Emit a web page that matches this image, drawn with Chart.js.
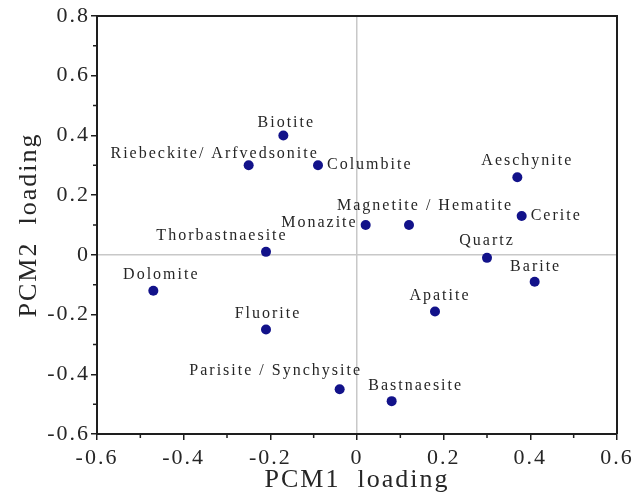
<!DOCTYPE html>
<html>
<head>
<meta charset="utf-8">
<title>PCM loadings</title>
<script src="https://cdn.jsdelivr.net/npm/chart.js@4.4.1/dist/chart.umd.min.js"></script>
<style>
    html, body { margin: 0; padding: 0; background: #fff; }
    #wrap { width: 643px; height: 500px; }
</style>
</head>
<body>
<div id="wrap"><canvas id="pcmChart"></canvas></div>
<script>
// Mineral loadings on the first two components
const minerals = [
    'Biotite', 'Riebeckite/ Arfvedsonite', 'Columbite', 'Aeschynite', 'Cerite',
    'Monazite', 'Magnetite / Hematite', 'Thorbastnaesite', 'Quartz', 'Barite',
    'Dolomite', 'Apatite', 'Fluorite', 'Parisite / Synchysite', 'Bastnaesite'
];
const pcm1 = [-0.17, -0.25, -0.09, 0.37, 0.38, 0.02, 0.12, -0.21, 0.30, 0.41, -0.47, 0.18, -0.21, -0.04, 0.08];
const pcm2 = [0.40, 0.30, 0.30, 0.26, 0.13, 0.10, 0.10, 0.01, -0.01, -0.09, -0.12, -0.19, -0.25, -0.45, -0.49];

const xRange = [-0.6, 0.6];
const yRange = [-0.6, 0.8];
const majorStep = 0.2;
const minorStep = 0.1;

// where each name sits relative to its dot (pixels)
const labelDx = [3, -34, 9, 10, 9, -8, 16, -44, 0, 1, 8, 5, 2, -64, 24];
const labelDy = [-13, -11, 0, -16, 0, -2, -19, -16, -17, -15, -16, -16, -16, -18, -15];
const labelAlign = ['center', 'center', 'left', 'center', 'left', 'right', 'center', 'center',
    'center', 'center', 'center', 'center', 'center', 'center', 'center'];

const SERIF = '"Liberation Serif", "Times New Roman", serif';
const INK = '#262626';
const AXIS = '#1e1e1e';

const points = minerals.map((m, i) => ({ x: pcm1[i], y: pcm2[i] }));

function fmtTick(v) {
    if (Math.abs(v) < 1e-9) return '0';
    return v.toFixed(1);
}

function zeroLine(c) {
    return Math.abs(c.tick.value) < 1e-9 ? '#c8c8c8' : 'rgba(0,0,0,0)';
}

const pointLabels = {
    id: 'pointLabels',
    afterDatasetsDraw(chart) {
        const ctx = chart.ctx;
        const meta = chart.getDatasetMeta(0);
        ctx.save();
        ctx.font = '16px ' + SERIF;
        ctx.letterSpacing = '2px';
        ctx.fillStyle = INK;
        ctx.textBaseline = 'middle';
        meta.data.forEach((pt, i) => {
            ctx.textAlign = labelAlign[i];
            ctx.fillText(minerals[i], pt.x + labelDx[i], pt.y + labelDy[i]);
        });
        ctx.restore();
    }
};

// closed box plus the small in-between ticks
const frame = {
    id: 'frame',
    beforeUpdate(chart) { chart.ctx.letterSpacing = '2px'; },
    beforeDraw(chart) { chart.ctx.letterSpacing = '2px'; },
    afterDraw(chart) {
        const { ctx, chartArea: a, scales: { x, y } } = chart;
        ctx.save();
        ctx.strokeStyle = AXIS;
        ctx.lineWidth = 2;
        ctx.beginPath();
        ctx.moveTo(a.left, a.top);
        ctx.lineTo(a.right, a.top);
        ctx.lineTo(a.right, a.bottom);
        ctx.stroke();

        ctx.lineWidth = 1.5;
        ctx.beginPath();
        for (let v = xRange[0] + minorStep; v < xRange[1]; v += majorStep) {
            const px = x.getPixelForValue(v);
            ctx.moveTo(px, a.bottom);
            ctx.lineTo(px, a.bottom + 4);
        }
        for (let v = yRange[0] + minorStep; v < yRange[1]; v += majorStep) {
            const py = y.getPixelForValue(v);
            ctx.moveTo(a.left, py);
            ctx.lineTo(a.left - 4, py);
        }
        ctx.stroke();
        ctx.restore();
    }
};

new Chart(document.getElementById('pcmChart'), {
    type: 'scatter',
    data: {
        datasets: [{
            data: points,
            backgroundColor: '#12128a',
            borderWidth: 0,
            pointRadius: 5,
            pointHoverRadius: 5
        }]
    },
    options: {
        responsive: true,
        maintainAspectRatio: false,
        animation: false,
        layout: { padding: { top: 16, right: 26, left: 0, bottom: 0 } },
        plugins: {
            legend: { display: false },
            tooltip: { enabled: false }
        },
        scales: {
            x: {
                type: 'linear',
                min: xRange[0],
                max: xRange[1],
                afterFit(s) { s.height = 66; },
                ticks: {
                    stepSize: majorStep,
                    padding: 5,
                    color: INK,
                    font: { family: SERIF, size: 22 },
                    callback: fmtTick
                },
                grid: {
                    color: zeroLine,
                    lineWidth: 1.5,
                    tickColor: AXIS,
                    tickLength: 6,
                    tickWidth: 1.5
                },
                border: { display: true, color: AXIS, width: 2 },
                title: {
                    display: true,
                    text: 'PCM1  loading',
                    color: INK,
                    font: { family: SERIF, size: 26 },
                    padding: { top: 0, bottom: 4 }
                }
            },
            y: {
                type: 'linear',
                min: yRange[0],
                max: yRange[1],
                afterFit(s) { s.width = 97; },
                ticks: {
                    stepSize: majorStep,
                    padding: 1,
                    color: INK,
                    font: { family: SERIF, size: 22 },
                    callback: fmtTick
                },
                grid: {
                    color: zeroLine,
                    lineWidth: 1.5,
                    tickColor: AXIS,
                    tickLength: 6,
                    tickWidth: 1.5
                },
                border: { display: true, color: AXIS, width: 2 },
                title: {
                    display: true,
                    text: 'PCM2  loading',
                    color: INK,
                    font: { family: SERIF, size: 26 },
                    padding: { top: 14, bottom: 0 }
                }
            }
        }
    },
    plugins: [frame, pointLabels]
});
</script>
</body>
</html>
